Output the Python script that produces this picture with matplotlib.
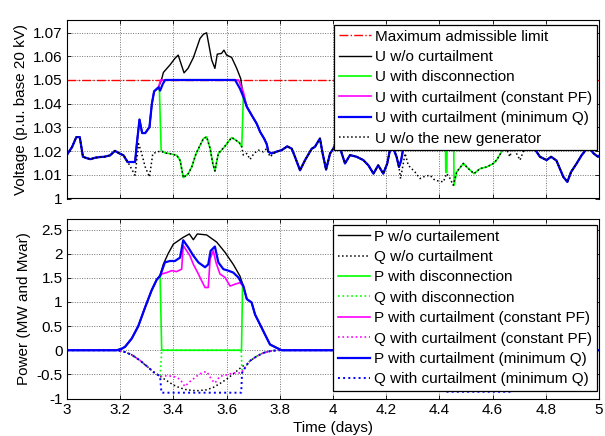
import numpy as np
import matplotlib.pyplot as plt

plt.rcParams['font.family'] = ['Liberation Sans', 'DejaVu Sans']
plt.rcParams['font.size'] = 11
plt.rcParams['axes.unicode_minus'] = False

# ---------------- voltage (p.u.) ----------------
v_limit = 1.05

# parts shared by every voltage curve
t_pre = [3.0, 3.019, 3.035, 3.048, 3.06, 3.075, 3.088, 3.106, 3.125, 3.14, 3.162, 3.18, 3.199, 3.2125]
u_pre = [1.0185, 1.0217, 1.0259, 1.0259, 1.0176, 1.0170, 1.0166, 1.0172, 1.0175, 1.0176, 1.0182, 1.0201, 1.0189, 1.0182]
t_mid = [3.807, 3.828, 3.845, 3.857, 3.876, 3.895, 3.92, 3.932, 3.951, 3.961, 3.974, 3.989, 4.001, 4.016,
         4.033, 4.045, 4.064, 4.089, 4.114, 4.133, 4.152, 4.17, 4.189, 4.204, 4.214, 4.227, 4.239, 4.248]
u_mid = [1.0204, 1.0220, 1.0210, 1.0176, 1.0119, 1.0162, 1.0210, 1.0218, 1.0253, 1.0190, 1.0122, 1.0190, 1.0210, 1.0246,
         1.0190, 1.0148, 1.0183, 1.0176, 1.0162, 1.0140, 1.0105, 1.0140, 1.0105, 1.0148, 1.0204, 1.0211, 1.0176, 1.0133]
t_post = [4.753, 4.778, 4.803, 4.82, 4.84, 4.866, 4.881, 4.895, 4.916, 4.935, 4.95, 4.96, 4.98, 4.996, 5.0]
u_post = [1.0218, 1.0176, 1.0162, 1.0176, 1.0160, 1.0091, 1.0070, 1.0112, 1.0148, 1.0183, 1.0204, 1.0218, 1.0190, 1.0176, 1.0180]

# U with curtailment (minimum Q)
t_minq_1 = [3.2275, 3.256, 3.2625, 3.2725, 3.2825, 3.294, 3.31, 3.319, 3.3275, 3.344, 3.35, 3.36, 3.369,
            3.632, 3.65, 3.663, 3.676, 3.694, 3.713, 3.726, 3.741, 3.751, 3.757, 3.769, 3.786]
u_minq_1 = [1.0154, 1.0154, 1.0231, 1.0333, 1.0276, 1.0276, 1.0301, 1.0399, 1.0452, 1.0469, 1.0455, 1.0483, 1.0500,
            1.0500, 1.0464, 1.0429, 1.0387, 1.0352, 1.0316, 1.0281, 1.0253, 1.0229, 1.0197, 1.0190, 1.0197]
t_minq_2 = [4.256, 4.264, 4.29, 4.33, 4.37, 4.40, 4.60, 4.64, 4.68, 4.71, 4.734]
u_minq_2 = [1.0160, 1.0211, 1.0300, 1.0380, 1.0450, 1.0500, 1.0500, 1.0420, 1.0320, 1.0250, 1.0218]

# U w/o curtailment
t_wo_1 = [3.2275, 3.256, 3.2625, 3.2725, 3.2825, 3.294, 3.31, 3.319, 3.3275, 3.344, 3.355, 3.3625, 3.3875,
          3.405, 3.418, 3.44, 3.455, 3.475, 3.5, 3.513, 3.525, 3.544, 3.556, 3.565, 3.581, 3.59, 3.6, 3.619,
          3.638, 3.653, 3.663, 3.676, 3.694, 3.713, 3.726, 3.741, 3.751, 3.757, 3.769, 3.786]
u_wo_1 = [1.0154, 1.0154, 1.0231, 1.0333, 1.0276, 1.0276, 1.0301, 1.0399, 1.0452, 1.0469, 1.0500, 1.0532, 1.0564,
          1.0590, 1.0605, 1.0530, 1.0549, 1.0594, 1.0675, 1.0693, 1.0699, 1.0584, 1.0549, 1.0609, 1.0612, 1.0626,
          1.0605, 1.0595, 1.0549, 1.0506, 1.0429, 1.0387, 1.0352, 1.0316, 1.0281, 1.0253, 1.0229, 1.0197, 1.0190, 1.0197]
t_wo_2 = [4.256, 4.264, 4.29, 4.33, 4.37, 4.40, 4.50, 4.60, 4.64, 4.68, 4.71, 4.734]
u_wo_2 = [1.0160, 1.0211, 1.0300, 1.0380, 1.0450, 1.0520, 1.0570, 1.0530, 1.0420, 1.0320, 1.0250, 1.0218]

# U with curtailment (constant PF)
t_pf_1 = [3.2275, 3.256, 3.2625, 3.2725, 3.2825, 3.294, 3.31, 3.319, 3.3275, 3.344, 3.352,
          3.645, 3.663, 3.676, 3.694, 3.713, 3.726, 3.741, 3.751, 3.757, 3.769, 3.786]
u_pf_1 = [1.0154, 1.0154, 1.0231, 1.0333, 1.0276, 1.0276, 1.0301, 1.0399, 1.0452, 1.0469, 1.0500,
          1.0500, 1.0450, 1.0387, 1.0352, 1.0316, 1.0281, 1.0253, 1.0229, 1.0197, 1.0190, 1.0197]

# U w/o the new generator
t_nogen_1 = [3.225, 3.256, 3.269, 3.2775, 3.294, 3.31, 3.3225, 3.3375, 3.3525, 3.369, 3.3875, 3.4125, 3.425,
             3.4375, 3.456, 3.469, 3.485, 3.5, 3.513, 3.525, 3.538, 3.548, 3.556, 3.569, 3.581, 3.594, 3.606,
             3.619, 3.631, 3.648, 3.657, 3.663, 3.676, 3.688, 3.703, 3.719, 3.738, 3.751, 3.763, 3.786]
u_nogen_1 = [1.0161, 1.0098, 1.0231, 1.0203, 1.0133, 1.0091, 1.0189, 1.0196, 1.0200, 1.0192, 1.0189, 1.0182, 1.0161,
             1.0088, 1.0105, 1.0133, 1.0189, 1.0224, 1.0253, 1.0260, 1.0211, 1.0148, 1.0116, 1.0190, 1.0204, 1.0221,
             1.0239, 1.0257, 1.0249, 1.0235, 1.0218, 1.0183, 1.0190, 1.0165, 1.0190, 1.0204, 1.0197, 1.0211, 1.0176, 1.0197]
t_nogen_2 = [4.254, 4.271, 4.283, 4.308, 4.327, 4.346, 4.365, 4.383, 4.415, 4.427, 4.437, 4.452, 4.465, 4.49,
             4.509, 4.53, 4.553, 4.578, 4.603, 4.615, 4.634, 4.643, 4.665, 4.675, 4.69, 4.703, 4.715, 4.734]
u_nogen_2 = [1.0084, 1.0190, 1.0140, 1.0112, 1.0084, 1.0094, 1.0098, 1.0077, 1.0070, 1.0105, 1.0091, 1.0056, 1.0112, 1.0148,
             1.0126, 1.0105, 1.0126, 1.0133, 1.0148, 1.0162, 1.0197, 1.0232, 1.0176, 1.0218, 1.0190, 1.0162, 1.0197, 1.0218]

# U with disconnection
t_disc_1 = [3.2275, 3.256, 3.2625, 3.2725, 3.2825, 3.294, 3.31, 3.319, 3.3275, 3.344, 3.3475, 3.354, 3.369, 3.3875,
            3.4125, 3.425, 3.4375, 3.456, 3.469, 3.485, 3.5, 3.513, 3.525, 3.538, 3.548, 3.556, 3.569, 3.581,
            3.594, 3.606, 3.619, 3.631, 3.648, 3.657, 3.663, 3.676, 3.694, 3.713, 3.726, 3.741, 3.751, 3.757, 3.769, 3.786]
u_disc_1 = [1.0154, 1.0154, 1.0231, 1.0333, 1.0276, 1.0276, 1.0301, 1.0399, 1.0452, 1.0469, 1.0455, 1.0203, 1.0192, 1.0189,
            1.0182, 1.0161, 1.0088, 1.0105, 1.0133, 1.0189, 1.0224, 1.0253, 1.0260, 1.0211, 1.0148, 1.0116, 1.0190, 1.0204,
            1.0221, 1.0239, 1.0257, 1.0249, 1.0235, 1.0218, 1.0429, 1.0387, 1.0352, 1.0316, 1.0281, 1.0253, 1.0229, 1.0197, 1.0190, 1.0197]
t_disc_2 = [4.256, 4.264, 4.29, 4.33, 4.37, 4.40, 4.42, 4.424, 4.428, 4.431, 4.452, 4.455, 4.465, 4.49,
            4.509, 4.53, 4.553, 4.578, 4.603, 4.615, 4.634, 4.643, 4.648, 4.68, 4.71, 4.734]
u_disc_2 = [1.0160, 1.0211, 1.0300, 1.0380, 1.0450, 1.0500, 1.0500, 1.0110, 1.0110, 1.0500, 1.0500, 1.0056, 1.0112, 1.0148,
            1.0126, 1.0105, 1.0126, 1.0133, 1.0148, 1.0162, 1.0197, 1.0232, 1.0400, 1.0320, 1.0250, 1.0218]

# ---------------- power (MW / Mvar) ----------------
t_p0a = [3.0, 3.187]
t_p0b = [3.807, 4.22]
t_p0c = [4.80, 5.0]

t_pwo_1 = [3.205, 3.218, 3.243, 3.268, 3.293, 3.318, 3.337, 3.35, 3.362, 3.38, 3.4, 3.437, 3.46, 3.475, 3.49,
           3.525, 3.563, 3.594, 3.625, 3.65, 3.663, 3.676, 3.694, 3.707, 3.726, 3.744, 3.763, 3.788]
p_wo_1 = [0.03, 0.07, 0.24, 0.50, 0.88, 1.24, 1.46, 1.56, 1.78, 2.00, 2.20, 2.34, 2.41, 2.29, 2.41,
          2.39, 2.24, 2.03, 1.78, 1.54, 1.33, 1.06, 0.99, 0.74, 0.53, 0.33, 0.12, 0.05]
t_p_2 = [4.28, 4.34, 4.40, 4.46, 4.52, 4.58, 4.64, 4.70, 4.76]
p_wo_2 = [0.35, 1.00, 1.60, 1.90, 2.00, 1.80, 1.30, 0.60, 0.10]

t_pminq_1 = [3.205, 3.218, 3.243, 3.268, 3.293, 3.318, 3.337, 3.35, 3.368, 3.387, 3.406, 3.425, 3.437, 3.447,
             3.456, 3.475, 3.494, 3.519, 3.531, 3.54, 3.556, 3.569, 3.588, 3.606, 3.625, 3.644, 3.663,
             3.676, 3.694, 3.707, 3.726, 3.744, 3.763, 3.788]
p_minq_1 = [0.03, 0.07, 0.24, 0.50, 0.88, 1.24, 1.46, 1.54, 1.82, 1.85, 1.85, 1.92, 2.28, 2.20,
            2.13, 1.96, 1.82, 1.72, 1.78, 2.06, 2.15, 1.82, 1.68, 1.65, 1.61, 1.51, 1.33,
            1.06, 0.99, 0.74, 0.53, 0.33, 0.12, 0.05]

t_ppf_1 = [3.205, 3.218, 3.243, 3.268, 3.293, 3.318, 3.337, 3.35, 3.356, 3.375, 3.394, 3.412, 3.431, 3.437,
           3.45, 3.462, 3.475, 3.494, 3.506, 3.519, 3.531, 3.538, 3.55, 3.56, 3.575, 3.594, 3.613, 3.632,
           3.65, 3.663, 3.676, 3.694, 3.707, 3.726, 3.744, 3.763, 3.788]
p_pf_1 = [0.03, 0.07, 0.24, 0.50, 0.88, 1.24, 1.46, 1.54, 1.58, 1.61, 1.65, 1.63, 1.68, 2.17,
          2.06, 1.96, 1.78, 1.58, 1.44, 1.30, 1.30, 1.89, 2.06, 1.82, 1.58, 1.51, 1.33, 1.37,
          1.40, 1.33, 1.06, 0.99, 0.74, 0.53, 0.33, 0.12, 0.05]

t_pdisc_1 = [3.205, 3.218, 3.243, 3.268, 3.293, 3.318, 3.337, 3.35, 3.356, 3.656, 3.66,
             3.676, 3.694, 3.707, 3.726, 3.744, 3.763, 3.788]
p_disc_1 = [0.03, 0.07, 0.24, 0.50, 0.88, 1.24, 1.46, 1.54, 0.0, 0.0, 1.36,
            1.06, 0.99, 0.74, 0.53, 0.33, 0.12, 0.05]
t_pdisc_2 = [4.28, 4.34, 4.40, 4.424, 4.428, 4.643, 4.648, 4.70, 4.76]
p_disc_2 = [0.35, 1.00, 1.60, 0.0, 0.0, 0.0, 1.25, 0.60, 0.10]

t_qwo_1 = [3.22, 3.245, 3.274, 3.3, 3.325, 3.35, 3.375, 3.4, 3.425, 3.45, 3.487, 3.525, 3.55, 3.575,
           3.6, 3.625, 3.645, 3.66, 3.676, 3.688, 3.713, 3.738, 3.763, 3.79]
q_wo_1 = [-0.04, -0.10, -0.21, -0.33, -0.45, -0.54, -0.63, -0.72, -0.78, -0.82, -0.84, -0.82, -0.77, -0.69,
          -0.60, -0.49, -0.40, -0.33, -0.30, -0.22, -0.125, -0.055, -0.02, 0.0]
q_wo_2 = [-0.12, -0.35, -0.56, -0.66, -0.70, -0.63, -0.45, -0.21, -0.035]

t_qminq_1 = [3.22, 3.245, 3.274, 3.3, 3.325, 3.35, 3.355, 3.655, 3.658, 3.676, 3.688, 3.713, 3.738, 3.763, 3.79]
q_minq_1 = [-0.04, -0.10, -0.21, -0.33, -0.45, -0.54, -0.88, -0.88, -0.47, -0.30, -0.22, -0.125, -0.055, -0.02, 0.0]
t_qminq_2 = [4.28, 4.34, 4.40, 4.42, 4.665, 4.67, 4.70, 4.76]
q_minq_2 = [-0.12, -0.35, -0.56, -0.86, -0.86, -0.38, -0.21, -0.035]

t_qpf_1 = [3.22, 3.245, 3.274, 3.3, 3.325, 3.35, 3.375, 3.4, 3.425, 3.443, 3.462, 3.487, 3.506, 3.525,
           3.544, 3.556, 3.575, 3.6, 3.625, 3.655, 3.676, 3.688, 3.713, 3.738, 3.763, 3.79]
q_pf_1 = [-0.04, -0.10, -0.21, -0.33, -0.45, -0.54, -0.53, -0.54, -0.60, -0.75, -0.65, -0.54, -0.47, -0.44,
          -0.61, -0.68, -0.54, -0.51, -0.47, -0.47, -0.30, -0.22, -0.125, -0.055, -0.02, 0.0]

t_qdisc_1 = [3.22, 3.245, 3.274, 3.3, 3.325, 3.35, 3.356, 3.655, 3.658, 3.676, 3.688, 3.713, 3.738, 3.763, 3.79]
q_disc_1 = [-0.04, -0.10, -0.21, -0.33, -0.45, -0.54, 0.0, 0.0, -0.47, -0.30, -0.22, -0.125, -0.055, -0.02, 0.0]
t_qdisc_2 = [4.28, 4.34, 4.40, 4.424, 4.643, 4.648, 4.70, 4.76]
q_disc_2 = [-0.12, -0.35, -0.56, 0.0, 0.0, -0.44, -0.21, -0.035]


def volt(t1, u1, t2, u2):
    t = np.concatenate([t_pre, t1, t_mid, t2, t_post])
    u = np.concatenate([u_pre, u1, u_mid, u2, u_post])
    return t, u


def power(t1, p1, t2, p2):
    t = np.concatenate([t_p0a, t1, t_p0b, t2, t_p0c])
    p = np.concatenate([[0, 0], p1, [0, 0], p2, [0, 0]])
    return t, p


fig = plt.figure(figsize=(6.05, 4.36), dpi=100)
ax1 = fig.add_axes([67 / 605, 1 - 198.5 / 436, 532 / 605, 178.5 / 436])
ax2 = fig.add_axes([67 / 605, 1 - 398.5 / 436, 532 / 605, 179.5 / 436])

# top: voltage
ax1.plot([3, 5], [v_limit, v_limit], color='r', ls='-.', lw=1, label='Maximum admissible limit')
ax1.plot(*volt(t_wo_1, u_wo_1, t_wo_2, u_wo_2), color='k', lw=1, label='U w/o curtailment')
ax1.plot(*volt(t_disc_1, u_disc_1, t_disc_2, u_disc_2), color=(0, 1, 0), lw=1.2, label='U with disconnection')
ax1.plot(*volt(t_pf_1, u_pf_1, t_minq_2, u_minq_2), color=(1, 0, 1), lw=1.2, label='U with curtailment (constant PF)')
ax1.plot(*volt(t_minq_1, u_minq_1, t_minq_2, u_minq_2), color=(0, 0, 1), lw=1.6, label='U with curtailment (minimum Q)')
ax1.plot(*volt(t_nogen_1, u_nogen_1, t_nogen_2, u_nogen_2), color='k', ls=':', lw=1.1, label='U w/o the new generator')
ax1.set_xlim(3, 5)
ax1.set_ylim(1.0, 1.0753)
ax1.set_yticks(np.arange(1.0, 1.0701, 0.01))
ax1.set_yticklabels(['1', '1.01', '1.02', '1.03', '1.04', '1.05', '1.06', '1.07'])
ax1.set_xticks(np.arange(3, 5.01, 0.2))
ax1.set_xticklabels([])
ax1.set_ylabel('Voltage (p.u. base 20 kV)')

# bottom: power
ax2.plot(*power(t_pwo_1, p_wo_1, t_p_2, p_wo_2), color='k', lw=1, label='P w/o curtailement')
ax2.plot(*power(t_qwo_1, q_wo_1, t_p_2, q_wo_2), color='k', ls=':', lw=1.1, label='Q w/o curtailment')
ax2.plot(*power(t_pdisc_1, p_disc_1, t_pdisc_2, p_disc_2), color=(0, 1, 0), lw=1.2, label='P with disconnection')
ax2.plot(*power(t_qdisc_1, q_disc_1, t_qdisc_2, q_disc_2), color=(0, 1, 0), ls=':', lw=1.2, label='Q with disconnection')
ax2.plot(*power(t_ppf_1, p_pf_1, t_p_2, p_wo_2), color=(1, 0, 1), lw=1.2, label='P with curtailment (constant PF)')
ax2.plot(*power(t_qpf_1, q_pf_1, t_p_2, q_wo_2), color=(1, 0, 1), ls=':', lw=1.2, label='Q with curtailment (constant PF)')
ax2.plot(*power(t_pminq_1, p_minq_1, t_p_2, p_wo_2), color=(0, 0, 1), lw=1.6, label='P with curtailment (minimum Q)')
ax2.plot(*power(t_qminq_1, q_minq_1, t_qminq_2, q_minq_2), color=(0, 0, 1), ls=':', lw=1.4, label='Q with curtailment (minimum Q)')
ax2.set_xlim(3, 5)
ax2.set_ylim(-1.0, 2.72)
ax2.set_yticks(np.arange(-1, 2.51, 0.5))
ax2.set_yticklabels(['-1', '-0.5', '0', '0.5', '1', '1.5', '2', '2.5'])
ax2.set_xticks(np.arange(3, 5.01, 0.2))
ax2.set_xticklabels(['3', '3.2', '3.4', '3.6', '3.8', '4', '4.2', '4.4', '4.6', '4.8', '5'])
ax2.set_ylabel('Power (MW and Mvar)')
ax2.set_xlabel('Time (days)', labelpad=3)

for ax, anchor in ((ax1, (0.9962, 0.972)), (ax2, (0.9962, 0.9666))):
    ax.grid(True, color='0.45', ls=(0, (1, 1.5)), lw=0.7)
    ax.tick_params(direction='in', top=True, right=True, length=3, width=0.6, labelsize=11, pad=3)
    for s in ax.spines.values():
        s.set_linewidth(0.8)
    leg = ax.legend(loc='upper right', bbox_to_anchor=anchor, borderaxespad=0, fancybox=False,
                    edgecolor='k', framealpha=1, fontsize=11, labelspacing=0.42, handlelength=2.1,
                    handletextpad=0.3, borderpad=0.3)
    leg.get_frame().set_linewidth(0.9)
    leg.set_zorder(10)

fig.savefig('out.png', dpi=100)
